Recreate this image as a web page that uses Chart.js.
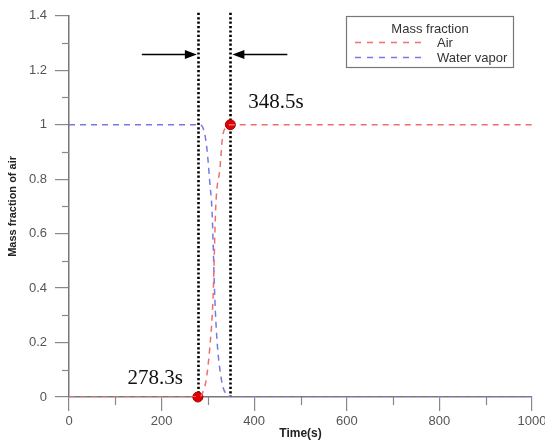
<!DOCTYPE html>
<html>
<head>
<meta charset="utf-8">
<script src="https://cdn.jsdelivr.net/npm/chart.js@4/dist/chart.umd.min.js"></script>
<style>
    html, body { margin: 0; padding: 0; background: #fff; }
    canvas { display: block; }
</style>
</head>
<body>
<canvas id="massChart" width="545" height="441"></canvas>
<script>
// air front (red) and water vapor front (blue)
const airTime = [0, 283, 287, 296, 304, 311, 317, 326, 332, 340, 348.5, 1000];
const airFraction = [0, 0, 0.01, 0.06, 0.18, 0.36, 0.70, 0.84, 0.96, 0.99, 1, 1];

const vaporTime = [0, 283, 291, 298, 304, 309, 315, 320, 326, 332, 340, 348.5, 1000];
const vaporFraction = [1, 1, 0.98, 0.91, 0.79, 0.68, 0.36, 0.2, 0.1, 0.04, 0.01, 0, 0];

const markerTimes = [278.3, 348.5];
const markerValues = [0, 1];
const markerLabels = ['278.3s', '348.5s'];

const legendNames = ['Air', 'Water vapor'];

const airColor = 'rgb(238, 110, 110)';
const vaporColor = 'rgb(120, 120, 228)';

const toPoints = (xs, ys) => xs.map((x, i) => ({ x: x, y: ys[i] }));

// minor ticks, dotted marker lines, arrows, time labels and the boxed legend
const extras = {
    id: 'extras',
    beforeDatasetsDraw(chart) {
        const ctx = chart.ctx;
        const x = chart.scales.x;
        const area = chart.chartArea;
        ctx.save();
        ctx.strokeStyle = '#000';
        ctx.lineWidth = 2.6;
        ctx.setLineDash([2.2, 2.2]);
        for (let t of markerTimes) {
            const px = Math.round(x.getPixelForValue(t)) + 0.5;
            ctx.beginPath();
            ctx.moveTo(px, area.top - 3);
            ctx.lineTo(px, area.bottom);
            ctx.stroke();
        }
        ctx.restore();
    },
    afterDraw(chart) {
        const ctx = chart.ctx;
        const x = chart.scales.x;
        const y = chart.scales.y;
        const area = chart.chartArea;
        ctx.save();

        // minor ticks
        ctx.strokeStyle = '#888';
        ctx.lineWidth = 1.2;
        for (let v = 0.1; v < 1.4; v += 0.2) {
            const py = Math.round(y.getPixelForValue(v)) + 0.5;
            ctx.beginPath();
            ctx.moveTo(area.left - 7, py);
            ctx.lineTo(area.left, py);
            ctx.stroke();
        }
        for (let t = 100; t < 1000; t += 200) {
            const px = Math.round(x.getPixelForValue(t)) + 0.5;
            ctx.beginPath();
            ctx.moveTo(px, area.bottom);
            ctx.lineTo(px, area.bottom + 8);
            ctx.stroke();
        }

        // arrows pointing at the two marker lines
        const ay = Math.round(y.getPixelForValue(1.26)) + 0.5;
        const left = x.getPixelForValue(markerTimes[0]) - 1;
        const right = x.getPixelForValue(markerTimes[1]) + 2;
        ctx.strokeStyle = '#000';
        ctx.fillStyle = '#000';
        ctx.lineWidth = 1.3;
        const arrow = (from, to) => {
            const dir = Math.sign(to - from);
            ctx.beginPath();
            ctx.moveTo(from, ay);
            ctx.lineTo(to - dir * 8, ay);
            ctx.stroke();
            ctx.beginPath();
            ctx.moveTo(to, ay);
            ctx.lineTo(to - dir * 12, ay - 4.5);
            ctx.lineTo(to - dir * 12, ay + 4.5);
            ctx.closePath();
            ctx.fill();
        };
        arrow(left - 55, left);
        arrow(right + 55, right);

        // time labels next to the dots
        ctx.font = '21px "Liberation Serif"';
        ctx.fillStyle = '#111';
        ctx.textBaseline = 'middle';
        ctx.textAlign = 'right';
        ctx.fillText(markerLabels[0], x.getPixelForValue(markerTimes[0]) - 15, y.getPixelForValue(markerValues[0]) - 19);
        ctx.textAlign = 'left';
        ctx.fillText(markerLabels[1], x.getPixelForValue(markerTimes[1]) + 18, y.getPixelForValue(markerValues[1]) - 22);

        // legend box
        ctx.strokeStyle = '#777';
        ctx.lineWidth = 1.2;
        ctx.strokeRect(346.5, 16.5, 167, 51);
        ctx.font = '13px "Liberation Sans"';
        ctx.fillStyle = '#333';
        ctx.textAlign = 'center';
        ctx.fillText('Mass fraction', 430, 29);
        const colors = [airColor, vaporColor];
        legendNames.forEach((name, i) => {
            const ly = 42.5 + i * 15;
            ctx.strokeStyle = colors[i];
            ctx.lineWidth = 1.5;
            ctx.setLineDash([6, 6]);
            ctx.beginPath();
            ctx.moveTo(355, ly);
            ctx.lineTo(426, ly);
            ctx.stroke();
            ctx.setLineDash([]);
            ctx.textAlign = 'left';
            ctx.fillText(name, 437, ly + 1);
        });
        ctx.restore();
    }
};

const ctx = document.getElementById('massChart').getContext('2d');
//eslint-disable-next-line no-undef
new Chart(ctx, {
    type: 'line',
    data: {
        datasets: [{
            label: legendNames[0],
            data: toPoints(airTime, airFraction),
            borderColor: airColor,
            borderWidth: 1.5,
            borderDash: [6, 5],
            pointRadius: 0,
            cubicInterpolationMode: 'monotone',
            fill: false
        }, {
            label: legendNames[1],
            data: toPoints(vaporTime, vaporFraction),
            borderColor: vaporColor,
            borderWidth: 1.5,
            borderDash: [6, 5],
            pointRadius: 0,
            cubicInterpolationMode: 'monotone',
            fill: false
        }, {
            label: 'markers',
            data: toPoints(markerTimes, markerValues),
            showLine: false,
            pointRadius: 5,
            pointBackgroundColor: '#e00000',
            pointBorderColor: '#a00000',
            pointBorderWidth: 1,
            clip: false
        }]
    },
    options: {
        responsive: false,
        animation: false,
        devicePixelRatio: 1,
        layout: {
            padding: { top: 14, right: 13, left: 0, bottom: 0 }
        },
        plugins: {
            legend: { display: false },
            tooltip: { enabled: false }
        },
        scales: {
            x: {
                type: 'linear',
                min: 0,
                max: 1000,
                afterFit: (scale) => {
                    scale.height = 44;
                    scale.paddingLeft = 0;
                    scale.paddingRight = 0;
                },
                ticks: {
                    stepSize: 200,
                    color: '#555',
                    padding: 3,
                    maxRotation: 0,
                    font: { family: 'Liberation Sans', size: 13 },
                    callback: (v) => String(v)
                },
                grid: {
                    drawOnChartArea: false,
                    tickLength: 14,
                    color: '#888',
                    lineWidth: 1.2
                },
                border: { color: '#777', width: 1.5 },
                title: {
                    display: true,
                    text: 'Time(s)',
                    color: '#222',
                    padding: 0,
                    font: { family: 'Liberation Sans', size: 12, weight: 'bold' }
                }
            },
            y: {
                min: 0,
                max: 1.4,
                afterFit: (scale) => { scale.width = 69; },
                ticks: {
                    stepSize: 0.2,
                    color: '#555',
                    padding: 8,
                    font: { family: 'Liberation Sans', size: 13 },
                    callback: (v) => String(Math.round(v * 10) / 10)
                },
                grid: {
                    drawOnChartArea: false,
                    tickLength: 14,
                    color: '#888',
                    lineWidth: 1.2
                },
                border: { color: '#777', width: 1.5 },
                title: {
                    display: true,
                    text: 'Mass fraction of air',
                    color: '#222',
                    padding: { top: 6, bottom: 0 },
                    font: { family: 'Liberation Sans', size: 11, weight: 'bold' }
                }
            }
        }
    },
    plugins: [extras]
});
</script>
</body>
</html>
